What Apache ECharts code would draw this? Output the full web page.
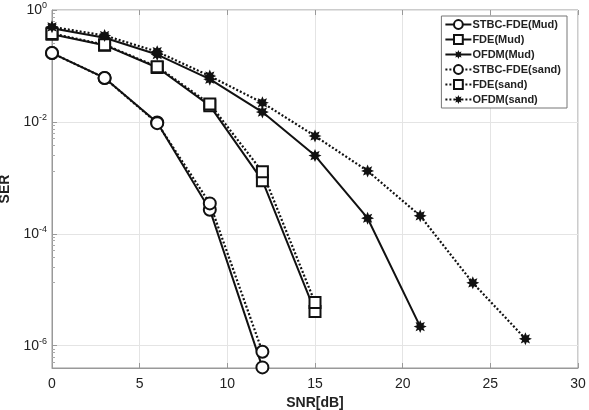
<!DOCTYPE html>
<html>
<head>
<meta charset="utf-8">
<script src="https://cdn.jsdelivr.net/npm/echarts@6/dist/echarts.min.js"></script>
<style>
  html, body { margin: 0; padding: 0; background: #fff; }
  #chart { width: 589px; height: 410px; }
</style>
</head>
<body>
<div id="chart"></div>
<script>
// SNR points per scheme
var snrStbc = [0, 3, 6, 9, 12];
var snrFde = [0, 3, 6, 9, 12, 15];
var snrOfdmMud = [0, 3, 6, 9, 12, 15, 18, 21];
var snrOfdmSand = [0, 3, 6, 9, 12, 15, 18, 21, 24, 27];

// SER values
var serStbcMud = [0.17, 0.061, 0.0098, 2.7e-4, 4.1e-7];
var serFdeMud = [0.37, 0.235, 0.094, 0.0195, 8.9e-4, 4.1e-6];
var serOfdmMud = [0.47, 0.32, 0.16, 0.058, 0.015, 0.0025, 1.9e-4, 2.2e-6];
var serStbcSand = [0.17, 0.061, 0.0095, 3.5e-4, 7.8e-7];
var serFdeSand = [0.38, 0.24, 0.097, 0.021, 0.00128, 5.9e-6];
var serOfdmSand = [0.5, 0.35, 0.18, 0.066, 0.022, 0.0056, 0.00133, 2.1e-4, 1.33e-5, 1.33e-6];

var names = ['STBC-FDE(Mud)', 'FDE(Mud)', 'OFDM(Mud)', 'STBC-FDE(sand)', 'FDE(sand)', 'OFDM(sand)'];
var xTicks = [0, 30, 5];

function pairs(xs, ys) {
    return xs.map(function (x, i) { return [x, ys[i]]; });
}

// matlab style '*' marker
function starPath() {
    var pts = [];
    for (var i = 0; i < 16; i++) {
        var a = Math.PI * i / 8 - Math.PI / 2;
        var r = i % 2 === 0 ? 10 : 5.5;
        pts.push((10 + r * Math.cos(a)).toFixed(2) + ' ' + (10 + r * Math.sin(a)).toFixed(2));
    }
    return 'path://M' + pts.join(' L') + ' Z';
}
var star = starPath();

var solid = { color: '#111', width: 2, type: 'solid' };
var dotted = { color: '#111', width: 2.2, type: [2, 2] };

function mk(name, xs, ys, symbol, size, line) {
    return {
        name: name,
        type: 'line',
        data: pairs(xs, ys),
        symbol: symbol,
        symbolSize: size,
        showAllSymbol: true,
        lineStyle: line,
        itemStyle: { color: '#111', borderWidth: symbol === star ? 0 : 1.6 },
        emphasis: { disabled: true },
        animation: false
    };
}

// only the even powers of ten carry a label
var yLabel = function (v) {
    var p = Math.log10(v);
    var r = Math.round(p);
    if (Math.abs(p - r) > 1e-6 || r % 2 !== 0) return '';
    return '{b|10}{s|' + r + '}';
};

var option = {
    backgroundColor: '#fff',
    animation: false,
    grid: {
        left: 52, right: 11, top: 10, bottom: 42,
        outerBoundsMode: 'none',
        show: true, borderColor: '#999', borderWidth: 1, backgroundColor: '#fff'
    },
    legend: {
        orient: 'vertical',
        right: 22, top: 16,
        data: names,
        itemWidth: 26, itemHeight: 11, itemGap: 4,
        backgroundColor: '#fff',
        borderColor: '#777', borderWidth: 1,
        padding: [3, 6, 3, 3],
        textStyle: { fontFamily: 'Liberation Sans', fontSize: 11, fontWeight: 'bold', color: '#222', padding: [0, 0, 0, -4] }
    },
    xAxis: [{
        type: 'value',
        min: xTicks[0], max: xTicks[1], interval: xTicks[2],
        name: 'SNR[dB]',
        nameLocation: 'middle',
        nameGap: 28,
        nameTextStyle: { fontFamily: 'Liberation Sans', fontSize: 14, fontWeight: 'bold', color: '#222' },
        axisLine: { show: true, lineStyle: { color: '#999' } },
        axisTick: { show: true, inside: true, length: 5, lineStyle: { color: '#999' } },
        axisLabel: { fontFamily: 'Liberation Sans', fontSize: 14, color: '#222', margin: 9 },
        splitLine: { show: true, lineStyle: { color: '#e4e4e4' } }
    }, {
        type: 'value', position: 'top',
        min: xTicks[0], max: xTicks[1], interval: xTicks[2],
        axisLine: { show: false },
        axisTick: { show: true, inside: true, length: 5, lineStyle: { color: '#999' } },
        axisLabel: { show: false },
        splitLine: { show: false }
    }],
    yAxis: [{
        type: 'log',
        logBase: 100,
        min: 4e-7, max: 1,
        name: 'SER',
        nameLocation: 'middle',
        nameGap: 35,
        nameTextStyle: { fontFamily: 'Liberation Sans', fontSize: 14, fontWeight: 'bold', color: '#222' },
        axisLine: { show: true, lineStyle: { color: '#999' } },
        axisTick: { show: true, inside: true, length: 5, lineStyle: { color: '#999' } },
        minorTick: { show: true, splitNumber: 8, length: 3, lineStyle: { color: '#aaa' } },
        minorSplitLine: { show: false },
        axisLabel: {
            formatter: yLabel,
            margin: 5,
            rich: {
                b: { fontFamily: 'Liberation Sans', fontSize: 14, color: '#222' },
                s: { fontFamily: 'Liberation Sans', fontSize: 9, color: '#222', verticalAlign: 'top', padding: [0, 0, 8, 0] }
            }
        },
        splitLine: { show: true, lineStyle: { color: '#e4e4e4' } }
    }],
    series: [
        mk(names[0], snrStbc, serStbcMud, 'emptyCircle', 12, solid),
        mk(names[1], snrFde, serFdeMud, 'emptyRect', 11, solid),
        mk(names[2], snrOfdmMud, serOfdmMud, star, 13, solid),
        mk(names[3], snrStbc, serStbcSand, 'emptyCircle', 12, dotted),
        mk(names[4], snrFde, serFdeSand, 'emptyRect', 11, dotted),
        mk(names[5], snrOfdmSand, serOfdmSand, star, 13, dotted)
    ]
};

var chart = echarts.init(document.getElementById('chart'));
chart.setOption(option);
</script>
</body>
</html>
